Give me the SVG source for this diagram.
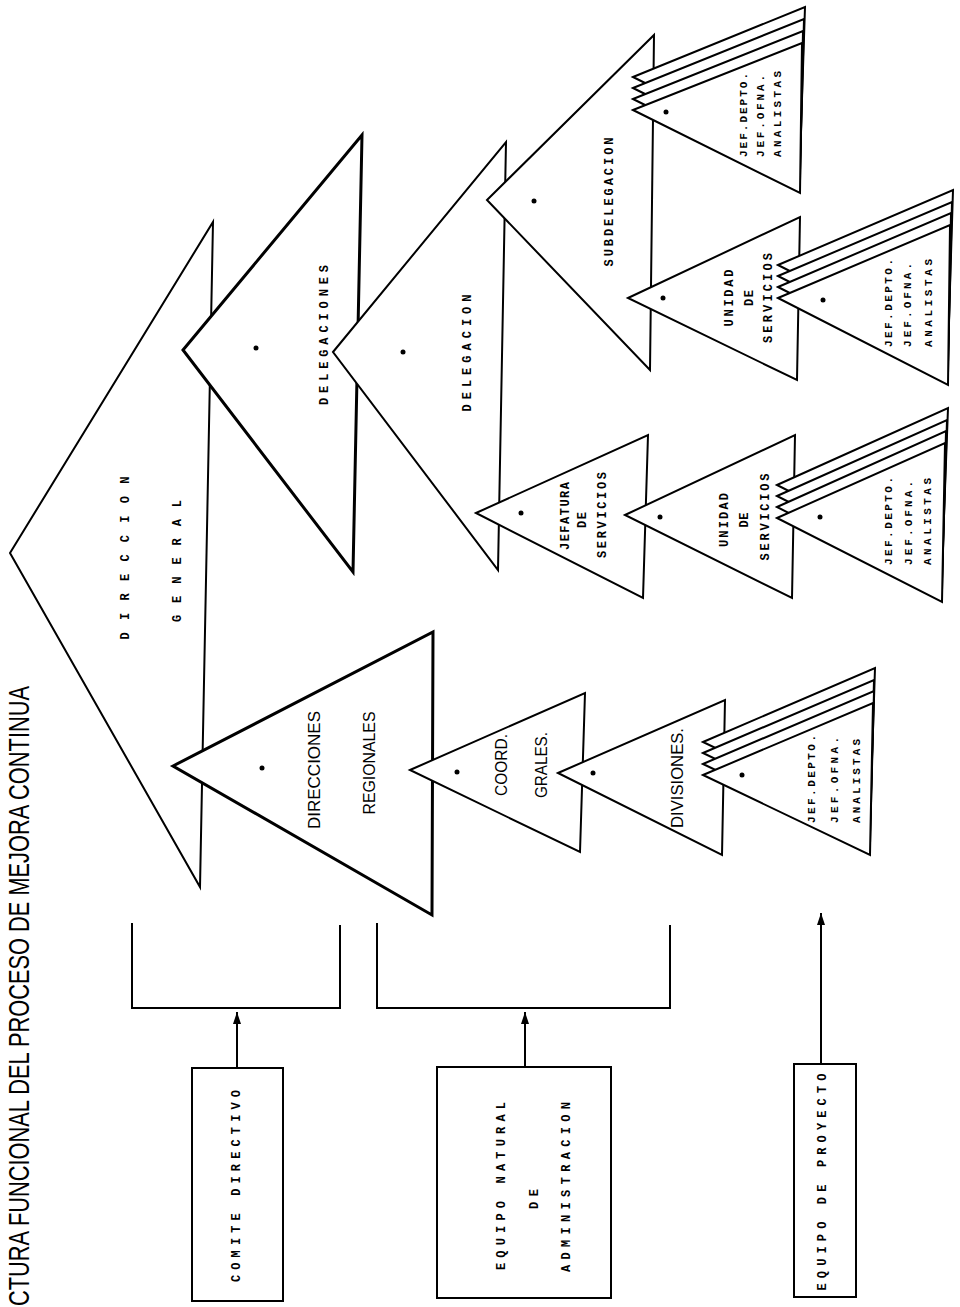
<svg xmlns="http://www.w3.org/2000/svg" width="960" height="1307" viewBox="0 0 960 1307">
<style>
.t{fill:#fff;stroke:#000;stroke-width:2;stroke-linejoin:miter}
.tk{fill:#fff;stroke:#000;stroke-width:3;stroke-linejoin:miter}
.b{fill:#fff;stroke:#000;stroke-width:2}
.c{fill:none;stroke:#000;stroke-width:2}
.d{fill:#000}
.m{font-family:"Liberation Mono","DejaVu Sans Mono",monospace;font-weight:bold;font-size:12px;fill:#000}
.j{font-family:"Liberation Mono","DejaVu Sans Mono",monospace;font-weight:bold;font-size:11px;fill:#000}
.s{font-family:"Liberation Sans","DejaVu Sans",sans-serif;font-size:16px;fill:#000}
.ti{font-family:"Liberation Sans","DejaVu Sans",sans-serif;font-size:30px;fill:#000}
</style>
<defs>
<marker id="ah" viewBox="0 0 12 8" refX="12" refY="4" markerWidth="12" markerHeight="8" orient="auto" markerUnits="userSpaceOnUse"><path d="M0,0 L12,4 L0,8 z" fill="#000"/></marker>
</defs>
<rect width="960" height="1307" fill="#fff"/>

<g id="title">
<text class="ti" x="29" y="1306" transform="rotate(-90 29 1306)" textLength="620" lengthAdjust="spacingAndGlyphs">CTURA FUNCIONAL DEL PROCESO DE MEJORA CONTINUA</text>
</g>

<g id="direccion-general">
<polygon class="t" points="10,553 213,222 200,887"/>
<text class="m" x="129" y="558" text-anchor="middle" transform="rotate(-90 129 558)" textLength="163">DIRECCION</text>
<text class="m" x="181" y="561" text-anchor="middle" transform="rotate(-90 181 561)" textLength="122">GENERAL</text>
</g>

<g id="delegaciones">
<polygon class="tk" points="183,350 362,135 353,572"/>
<circle class="d" cx="256" cy="348" r="2.5"/>
<text class="m" x="328" y="335" text-anchor="middle" transform="rotate(-90 328 335)" textLength="140">DELEGACIONES</text>
</g>

<g id="delegacion">
<polygon class="t" points="333,352 506,142 498,570"/>
<circle class="d" cx="403" cy="352" r="2.5"/>
<text class="m" x="471" y="353" text-anchor="middle" transform="rotate(-90 471 353)" textLength="117">DELEGACION</text>
</g>

<g id="subdelegacion">
<polygon class="t" points="487,200 654,35 650,370"/>
<circle class="d" cx="534" cy="201" r="2.5"/>
<text class="m" x="613" y="202" text-anchor="middle" transform="rotate(-90 613 202)" textLength="129">SUBDELEGACION</text>
</g>

<g id="jef-subdelegacion">
<polygon class="t" points="633,77 805,7 800,160"/>
<polygon class="t" points="633,88 804,19 800,171"/>
<polygon class="t" points="633,99 803,31 800,182"/>
<polygon class="t" points="633,110 802,43 800,193"/>
<circle class="d" cx="666" cy="112" r="2.5"/>
<text class="j" x="747" y="157" transform="rotate(-90 747 157)" textLength="84">JEF.DEPTO.</text>
<text class="j" x="764" y="157" transform="rotate(-90 764 157)" textLength="82">JEF.OFNA.</text>
<text class="j" x="781" y="157" transform="rotate(-90 781 157)" textLength="86">ANALISTAS</text>
</g>

<g id="unidad-servicios-1">
<polygon class="t" points="628,298 800,217 797,380"/>
<circle class="d" cx="663" cy="298" r="2.5"/>
<text class="m" x="733" y="298" text-anchor="middle" transform="rotate(-90 733 298)" textLength="57">UNIDAD</text>
<text class="m" x="753" y="298" text-anchor="middle" transform="rotate(-90 753 298)" textLength="16">DE</text>
<text class="m" x="772" y="298" text-anchor="middle" transform="rotate(-90 772 298)" textLength="90">SERVICIOS</text>
</g>

<g id="jef-unidad-1">
<polygon class="t" points="778,265 953,190 948,352"/>
<polygon class="t" points="778,276 952,202 948,363"/>
<polygon class="t" points="778,287 951,213 948,374"/>
<polygon class="t" points="778,298 950,225 948,385"/>
<circle class="d" cx="823" cy="300" r="2.5"/>
<text class="j" x="892" y="347" transform="rotate(-90 892 347)" textLength="88">JEF.DEPTO.</text>
<text class="j" x="911" y="347" transform="rotate(-90 911 347)" textLength="84">JEF.OFNA.</text>
<text class="j" x="932" y="347" transform="rotate(-90 932 347)" textLength="88">ANALISTAS</text>
</g>

<g id="jefatura-servicios">
<polygon class="t" points="476,513 648,435 643,598"/>
<circle class="d" cx="521" cy="513" r="2.5"/>
<text class="m" x="569" y="516" text-anchor="middle" transform="rotate(-90 569 516)" textLength="68">JEFATURA</text>
<text class="m" x="586" y="520" text-anchor="middle" transform="rotate(-90 586 520)" textLength="16">DE</text>
<text class="m" x="606" y="515" text-anchor="middle" transform="rotate(-90 606 515)" textLength="86">SERVICIOS</text>
</g>

<g id="unidad-servicios-2">
<polygon class="t" points="625,515 795,435 792,598"/>
<circle class="d" cx="660" cy="517" r="2.5"/>
<text class="m" x="728" y="520" text-anchor="middle" transform="rotate(-90 728 520)" textLength="54">UNIDAD</text>
<text class="m" x="748" y="520" text-anchor="middle" transform="rotate(-90 748 520)" textLength="15">DE</text>
<text class="m" x="769" y="517" text-anchor="middle" transform="rotate(-90 769 517)" textLength="87">SERVICIOS</text>
</g>

<g id="jef-unidad-2">
<polygon class="t" points="777,485 948,408 942,569"/>
<polygon class="t" points="777,496 947,420 942,580"/>
<polygon class="t" points="777,507 946,431 942,591"/>
<polygon class="t" points="777,518 945,443 942,602"/>
<circle class="d" cx="820" cy="517" r="2.5"/>
<text class="j" x="892" y="565" transform="rotate(-90 892 565)" textLength="88">JEF.DEPTO.</text>
<text class="j" x="912" y="565" transform="rotate(-90 912 565)" textLength="84">JEF.OFNA.</text>
<text class="j" x="931" y="565" transform="rotate(-90 931 565)" textLength="87">ANALISTAS</text>
</g>

<g id="direcciones-regionales">
<polygon class="tk" points="173,766 433,632 432,915"/>
<circle class="d" cx="262" cy="768" r="2.5"/>
<text class="s" x="320" y="770" text-anchor="middle" transform="rotate(-90 320 770)" textLength="118" lengthAdjust="spacingAndGlyphs">DIRECCIONES</text>
<text class="s" x="375" y="763" text-anchor="middle" transform="rotate(-90 375 763)" textLength="103" lengthAdjust="spacingAndGlyphs">REGIONALES</text>
</g>

<g id="coord-grales">
<polygon class="t" points="410,770 585,693 580,852"/>
<circle class="d" cx="457" cy="772" r="2.5"/>
<text class="s" x="507" y="765" text-anchor="middle" transform="rotate(-90 507 765)" textLength="62" lengthAdjust="spacingAndGlyphs">COORD.</text>
<text class="s" x="547" y="765" text-anchor="middle" transform="rotate(-90 547 765)" textLength="66" lengthAdjust="spacingAndGlyphs">GRALES.</text>
</g>

<g id="divisiones">
<polygon class="t" points="558,773 725,700 722,855"/>
<circle class="d" cx="593" cy="773" r="2.5"/>
<text class="s" x="683" y="778" text-anchor="middle" transform="rotate(-90 683 778)" textLength="100" lengthAdjust="spacingAndGlyphs">DIVISIONES.</text>
</g>

<g id="jef-divisiones">
<polygon class="t" points="703,742 875,668 870,822"/>
<polygon class="t" points="703,753 874,680 870,833"/>
<polygon class="t" points="703,764 874,691 870,844"/>
<polygon class="t" points="703,775 873,703 870,855"/>
<circle class="d" cx="742" cy="775" r="2.5"/>
<text class="j" x="815" y="823" transform="rotate(-90 815 823)" textLength="88">JEF.DEPTO.</text>
<text class="j" x="838" y="823" transform="rotate(-90 838 823)" textLength="86">JEF.OFNA.</text>
<text class="j" x="860" y="823" transform="rotate(-90 860 823)" textLength="84">ANALISTAS</text>
</g>

<g id="comite-directivo">
<rect class="b" x="192" y="1068" width="91" height="233"/>
<text class="m" x="240" y="1186" text-anchor="middle" transform="rotate(-90 240 1186)" textLength="192">COMITE DIRECTIVO</text>
</g>

<g id="equipo-natural">
<rect class="b" x="437" y="1067" width="174" height="231"/>
<text class="m" x="505" y="1186" text-anchor="middle" transform="rotate(-90 505 1186)" textLength="168">EQUIPO NATURAL</text>
<text class="m" x="538" y="1199" text-anchor="middle" transform="rotate(-90 538 1199)" textLength="20">DE</text>
<text class="m" x="570" y="1187" text-anchor="middle" transform="rotate(-90 570 1187)" textLength="170">ADMINISTRACION</text>
</g>

<g id="equipo-proyecto">
<rect class="b" x="794" y="1064" width="62" height="233"/>
<text class="m" x="826" y="1182" text-anchor="middle" transform="rotate(-90 826 1182)" textLength="217">EQUIPO DE PROYECTO</text>
</g>

<g id="connectors">
<polyline class="c" points="132,923 132,1008 340,1008 340,925"/>
<polyline class="c" points="377,923 377,1008 670,1008 670,925"/>
<line class="c" x1="237" y1="1068" x2="237" y2="1012" marker-end="url(#ah)"/>
<line class="c" x1="525" y1="1067" x2="525" y2="1012" marker-end="url(#ah)"/>
<line class="c" x1="821" y1="1064" x2="821" y2="913" marker-end="url(#ah)"/>
</g>
</svg>
